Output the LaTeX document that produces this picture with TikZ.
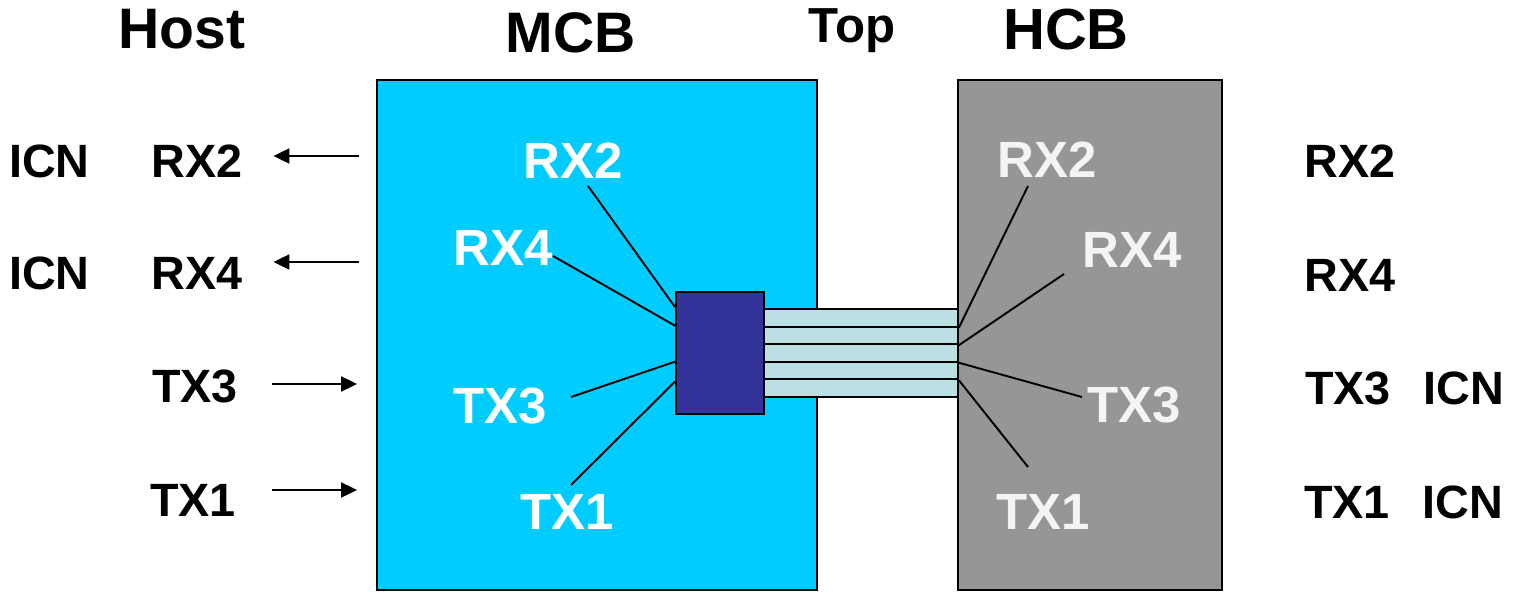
\documentclass[tikz,border=0pt]{standalone}
\usepackage{fontspec}
\setmainfont{Liberation Sans}
\usepackage{tikz}
\usetikzlibrary{arrows.meta, positioning, calc}
\definecolor{mcbcyan}{RGB}{0, 204, 255}
\definecolor{hcbgray}{RGB}{150, 150, 150}
\definecolor{connblue}{RGB}{51, 51, 153}
\definecolor{stripcyan}{RGB}{187, 224, 227}
\definecolor{hcbtext}{RGB}{244, 244, 244}

\begin{document}
\begin{tikzpicture}[x=0.02cm, y=-0.02cm, line width=1.1pt,
    board/.style={rectangle, draw, minimum height=10.2cm},
    title/.style={font=\bfseries\fontsize{32.5}{32.5}\selectfont, inner sep=0pt},
    side/.style={font=\bfseries\fontsize{26.6}{26.6}\selectfont, inner sep=0pt},
    pin/.style={font=\bfseries\fontsize{29}{29}\selectfont, inner sep=0pt, text=white},
    sig/.style={-{Triangle[length=0.32cm, width=0.3cm]}}]
    \useasboundingbox (0,0) rectangle (1522,597);

    % Boards
    \node (mcb) [board, fill=mcbcyan, minimum width=8.8cm] at (597,335) {};
    \node (hcb) [board, fill=hcbgray, minimum width=5.28cm] at (1090,335) {};

    % Ribbon cable and connector
    \foreach \i in {1,...,5}
        \node (strip\i) [rectangle, draw, fill=stripcyan, minimum width=3.88cm, minimum height=0.352cm, inner sep=0pt] at (861,300.2+17.6*\i) {};
    \node (conn) [rectangle, draw, fill=connblue, minimum width=1.76cm, minimum height=2.44cm, inner sep=0pt] at (720,353) {};

    % Titles
    \node (host) [title] at (182,29) {Host};
    \node (mcbt) [title] at (571,33) {MCB};
    \node (top) [title, font=\bfseries\fontsize{28}{28}\selectfont, anchor=base] at (852,43) {Top};
    \node (hcbt) [title, font=\bfseries\fontsize{33}{33}\selectfont] at (1066,30) {HCB};

    % Host side
    \node (hrx2) [side] at (197,161) {RX2};
    \node (hrx4) [side] at (197,273) {RX4};
    \node (htx3) [side] at (195,386) {TX3};
    \node (htx1) [side] at (193,500) {TX1};
    \node (hicn2) [side, left=1.2cm of hrx2] {ICN};
    \node (hicn4) [side, left=1.2cm of hrx4] {ICN};

    \draw[sig, shorten <=0.34cm, shorten >=0.6cm] ([yshift=0.1cm]hrx2.east -| mcb.west) -- ([yshift=0.1cm]hrx2.east);
    \draw[sig, shorten <=0.34cm, shorten >=0.6cm] ([yshift=0.22cm]hrx4.east -| mcb.west) -- ([yshift=0.22cm]hrx4.east);
    \draw[sig, shorten <=0.66cm, shorten >=0.38cm] ([yshift=0.04cm]htx3.east) -- ([yshift=0.04cm]htx3.east -| mcb.west);
    \draw[sig, shorten <=0.7cm, shorten >=0.38cm] ([yshift=0.2cm]htx1.east) -- ([yshift=0.2cm]htx1.east -| mcb.west);

    % MCB pins
    \node (mrx2) [pin] at (573,161) {RX2};
    \node (mrx4) [pin] at (503,248) {RX4};
    \node (mtx3) [pin] at (500,406) {TX3};
    \node (mtx1) [pin] at (567,512) {TX1};
    \coordinate (mrx2end) at (588,186);
    \coordinate (mrx4end) at (553,256);
    \coordinate (mtx3end) at (571,397);
    \coordinate (mtx1end) at (571,485);
    \draw ($(conn.north west)!0.13!(conn.south west)$) -- (mrx2end);
    \draw ($(conn.north west)!0.28!(conn.south west)$) -- (mrx4end);
    \draw ($(conn.north west)!0.57!(conn.south west)$) -- (mtx3end);
    \draw ($(conn.north west)!0.73!(conn.south west)$) -- (mtx1end);

    % HCB pins
    \node (crx2) [pin, text=hcbtext] at (1047,160) {RX2};
    \node (crx4) [pin, text=hcbtext] at (1132,250) {RX4};
    \node (ctx3) [pin, text=hcbtext] at (1134,405) {TX3};
    \node (ctx1) [pin, text=hcbtext] at (1043,512) {TX1};
    \coordinate (crx2end) at (1028,186);
    \coordinate (crx4end) at (1064,274);
    \coordinate (ctx3end) at (1082,397);
    \coordinate (ctx1end) at (1028,467);
    \draw (strip1.south east) -- (crx2end);
    \draw (strip2.south east) -- (crx4end);
    \draw (strip3.south east) -- (ctx3end);
    \draw (strip4.south east) -- (ctx1end);

    % Right side
    \node (trx2) [side] at (1350,161) {RX2};
    \node (trx4) [side] at (1350,275) {RX4};
    \node (ttx3) [side] at (1348,388) {TX3};
    \node (ttx1) [side] at (1347,502) {TX1};
    \node (ticn3) [side, right=0.62cm of ttx3] {ICN};
    \node (ticn1) [side, right=0.62cm of ttx1] {ICN};
\end{tikzpicture}
\end{document}
